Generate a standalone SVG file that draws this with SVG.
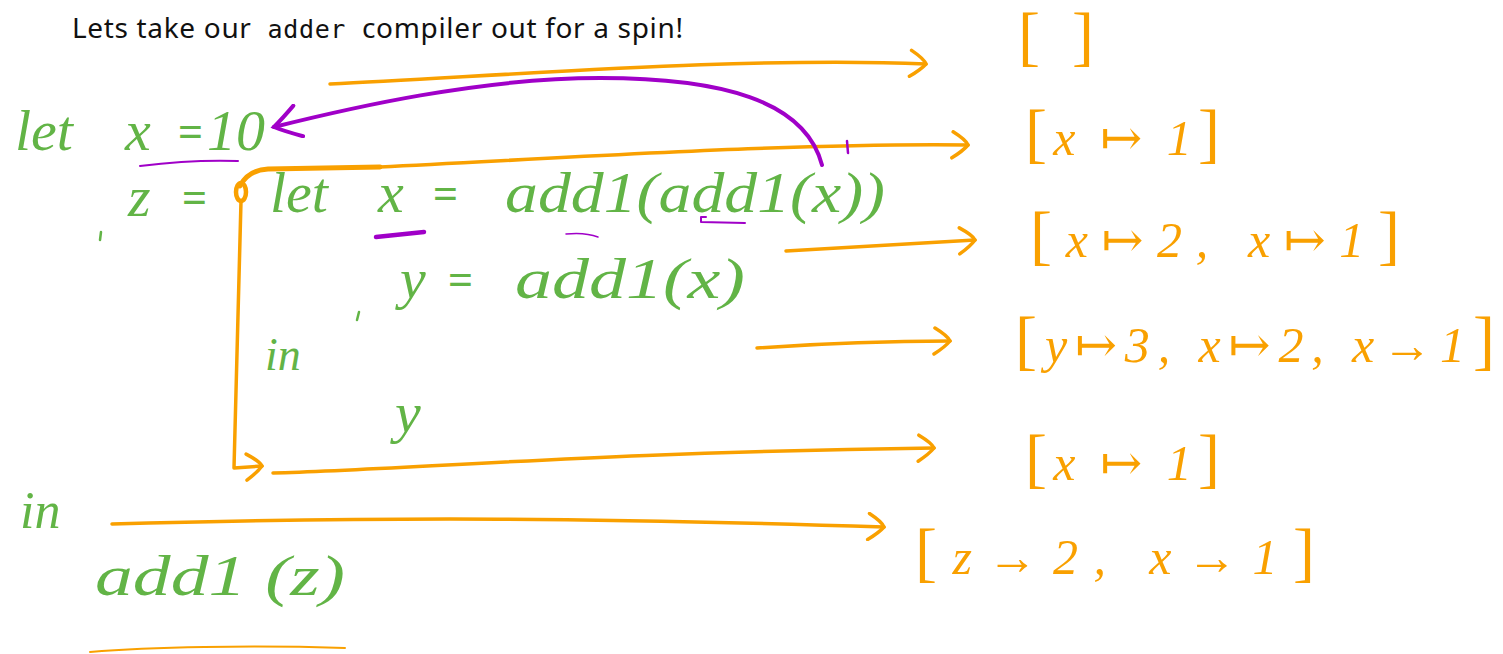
<svg xmlns="http://www.w3.org/2000/svg" width="1503" height="654" viewBox="0 0 1503 654">
<defs>
<style>
.title{font-family:"Noto Sans","Open Sans",sans-serif;font-size:28px;fill:#111}
.mono{font-family:"DejaVu Sans Mono","Liberation Mono",monospace;font-size:25px}
.code{font-family:"Liberation Serif","DejaVu Serif",serif;font-style:italic;font-size:58px;fill:#62b446}
.eq{font-size:44px;font-style:normal;font-weight:bold}
.env{font-family:"Liberation Serif","DejaVu Serif",serif;font-style:italic;font-size:50px;fill:#f9a000}
.br{font-size:66px;font-style:normal}
.o{fill:none;stroke:#f9a000;stroke-width:3.5;stroke-linecap:round;stroke-linejoin:round}
.p{fill:none;stroke:#a000c8;stroke-linecap:round;stroke-linejoin:round}
.g{fill:none;stroke:#62b446;stroke-width:2.5;stroke-linecap:round}
</style>
<marker id="ah" viewBox="-20 -15 24 30" markerWidth="24" markerHeight="30" refX="0" refY="0" orient="auto" markerUnits="userSpaceOnUse">
<path d="M-15,-13 Q-2,-5 0,0 Q-5,6 -16,13" fill="none" stroke="#f9a000" stroke-width="3.5" stroke-linecap="round"/>
</marker>
<marker id="ahp" viewBox="-30 -18 34 36" markerWidth="34" markerHeight="36" refX="0" refY="0" orient="auto" markerUnits="userSpaceOnUse">
<path d="M-26,-16 Q-8,-6 0,0 Q-10,6 -24,16" fill="none" stroke="#a000c8" stroke-width="4" stroke-linecap="round"/>
</marker>
</defs>
<rect width="1503" height="654" fill="#fff"/>

<g id="title">
<text class="title" x="72" y="38" xml:space="preserve" textLength="611" lengthAdjust="spacing">Lets take our  <tspan class="mono">adder</tspan>  compiler out for a spin!</text>
</g>

<g id="connectors">
<path class="o" d="M330,84 C500,76 750,56 926,64" marker-end="url(#ah)"/>
<path class="o" d="M240,186 Q248,170 268,169 L380,167" style="stroke-width:5"/>
<path class="o" d="M380,167 C600,156 800,143 968,145" marker-end="url(#ah)"/>
<ellipse class="o" cx="241" cy="192" rx="5" ry="9" style="stroke-width:4.5"/>
<path class="o" d="M241,201 L234,468 L262,466" marker-end="url(#ah)"/>
<path class="o" d="M273,473 C400,470 600,452 934,448" marker-end="url(#ah)"/>
<path class="o" d="M786,251 L975,240" marker-end="url(#ah)"/>
<path class="o" d="M757,348 C800,345 880,341 950,341" marker-end="url(#ah)"/>
<path class="o" d="M112,524 C400,516 600,518 884,527" marker-end="url(#ah)"/>
<path class="o" d="M90,652 C150,647 250,645 345,648" style="stroke-width:2"/>
<path class="p" d="M822,165 C805,100 720,78 600,78 C480,78 350,108 274,127" style="stroke-width:4" marker-end="url(#ahp)"/>
</g>

<g id="marks">
<path class="p" d="M140,166 C180,161 210,160 238,161" style="stroke-width:2"/>
<path class="p" d="M376,237 L424,232" style="stroke-width:4.5"/>
<path class="p" d="M566,234 Q585,232 598,237" style="stroke-width:1.5"/>
<path class="p" d="M706,217 L701,217 L701,222 L745,223" style="stroke-width:2"/>
<path class="p" d="M847,141 L848,153" style="stroke-width:2.5"/>
<path class="g" d="M101,232 L100,240"/>
<path class="g" d="M359,312 L357,320"/>
</g>

<g id="code-let-x">
<text class="code" y="150"><tspan x="15">let</tspan><tspan x="125">x</tspan><tspan class="eq" x="178" dy="-4">=</tspan><tspan x="207" dy="4">10</tspan></text>
</g>
<g id="code-z">
<text class="code" y="216"><tspan x="128">z</tspan><tspan class="eq" x="182" dy="-4">=</tspan></text>
</g>
<g id="code-inner-let">
<text class="code" y="212"><tspan x="270">let</tspan><tspan x="378">x</tspan><tspan class="eq" x="433" dy="-4">=</tspan></text>
<text class="code" x="505" y="212" textLength="380" lengthAdjust="spacingAndGlyphs">add1(add1(x))</text>
</g>
<g id="code-y">
<text class="code" y="298"><tspan x="400">y</tspan><tspan class="eq" x="448" dy="-4">=</tspan></text>
<text class="code" x="515" y="298" textLength="230" lengthAdjust="spacingAndGlyphs">add1(x)</text>
</g>
<g id="code-in-inner">
<text class="code" x="265" y="370" style="font-size:46px">in</text>
</g>
<g id="code-y-body">
<text class="code" x="395" y="432">y</text>
</g>
<g id="code-in-outer">
<text class="code" x="20" y="528" style="font-size:52px">in</text>
</g>
<g id="code-body">
<text class="code" x="95" y="595" textLength="250" lengthAdjust="spacingAndGlyphs">add1 (z)</text>
</g>

<g id="env-0">
<text class="env" x="1018" y="58" textLength="76" lengthAdjust="spacing"><tspan class="br">[</tspan> <tspan class="br">]</tspan></text>
</g>
<g id="env-1">
<text class="env" x="1025" y="155" textLength="195" lengthAdjust="spacing"><tspan class="br">[</tspan>x ↦ 1<tspan class="br">]</tspan></text>
</g>
<g id="env-2">
<text class="env" x="1030" y="257" textLength="370" lengthAdjust="spacing"><tspan class="br">[</tspan>x↦2, x↦1<tspan class="br">]</tspan></text>
</g>
<g id="env-3">
<text class="env" x="1015" y="362" textLength="480" lengthAdjust="spacing"><tspan class="br">[</tspan>y↦3, x↦2, x→1<tspan class="br">]</tspan></text>
</g>
<g id="env-4">
<text class="env" x="1025" y="480" textLength="195" lengthAdjust="spacing"><tspan class="br">[</tspan>x ↦ 1<tspan class="br">]</tspan></text>
</g>
<g id="env-5">
<text class="env" x="915" y="574" textLength="400" lengthAdjust="spacing"><tspan class="br">[</tspan>z→2, x→1<tspan class="br">]</tspan></text>
</g>
</svg>
